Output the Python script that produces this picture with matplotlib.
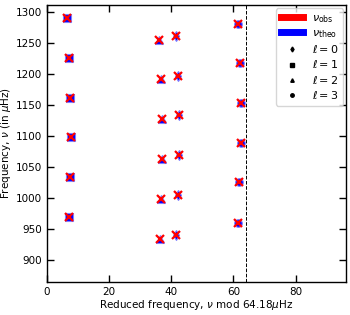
import numpy as np
import matplotlib

matplotlib.use("Agg")
import matplotlib.pyplot as plt
from matplotlib.lines import Line2D

DNU = 64.18

# reduced frequency (x) and frequency (y), per degree l
L0_X = [41.5, 42.1, 42.5, 42.4, 42.1, 41.6]
L0_NU = [941.5, 1005.6, 1070.0, 1133.8, 1197.6, 1261.9]
L1_X = [7.1, 7.4, 7.6, 7.5, 7.1, 6.5]
L1_NU = [970.4, 1034.7, 1099.0, 1162.7, 1226.5, 1290.4]
L2_X = [36.5, 36.7, 37.0, 37.0, 36.7, 36.2]
L2_NU = [935.0, 999.3, 1064.0, 1128.5, 1192.3, 1255.5]
L3_X = [61.4, 61.9, 62.3, 62.3, 62.0, 61.5]
L3_NU = [960.8, 1025.6, 1089.4, 1154.2, 1218.0, 1281.7]

MARKERS = ["d", "s", "^", "o"]
SERIES = [(L0_X, L0_NU), (L1_X, L1_NU), (L2_X, L2_NU), (L3_X, L3_NU)]

plt.rcParams["font.size"] = 7.5

fig = plt.figure(figsize=(3.5, 3.15), dpi=100)
ax = fig.add_axes([0.134, 0.105, 0.855, 0.879])

for (xs, nus), m in zip(SERIES, MARKERS):
    # theoretical: blue filled markers
    ax.plot(xs, nus, ls="none", marker=m, ms=5.5, color="blue",
            mec="#8080ff", mew=0.8, zorder=2)
    # observed: red crosses on top
    ax.plot(xs, nus, ls="none", marker="x", ms=5.5, color="red",
            mew=1.6, zorder=3)

ax.axvline(DNU, color="black", ls="--", lw=0.7)

ax.set_xlim(0, 1.5 * DNU)
ax.set_ylim(865, 1312)
ax.set_xticks([0, 20, 40, 60, 80])
ax.set_yticks(np.arange(900, 1301, 50))
ax.tick_params(direction="in", top=True, right=True, length=5, width=1)
for s in ax.spines.values():
    s.set_linewidth(1.0)

ax.set_xlabel(r"Reduced frequency, $\nu$ mod 64.18$\mu$Hz", labelpad=1)
ax.set_ylabel(r"Frequency, $\nu$ (in $\mu$Hz)", labelpad=2)

handles = [
    Line2D([], [], color="red", lw=5, label=r"$\nu_{\rm obs}$"),
    Line2D([], [], color="blue", lw=5, label=r"$\nu_{\rm theo}$"),
]
for l, m in enumerate(MARKERS):
    handles.append(Line2D([], [], ls="none", marker=m, ms=2.5, color="black",
                          label=rf"$\ell={l}$"))
ax.legend(handles=handles, loc="upper right", fontsize=8,
          handlelength=2.0, labelspacing=0.3, borderaxespad=0.3)

fig.savefig("out.png", dpi=100)
